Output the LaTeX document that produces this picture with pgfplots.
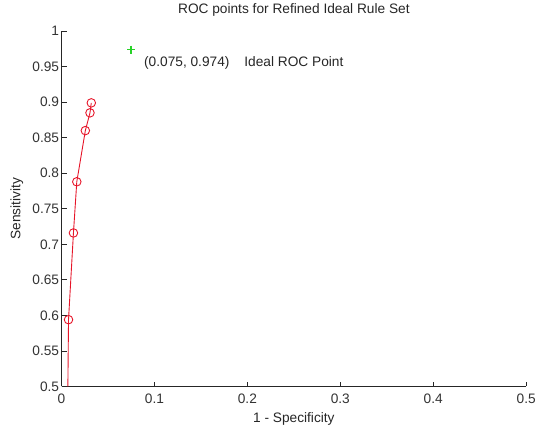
\documentclass[border=0pt]{standalone}
\usepackage{fontspec}
\setmainfont{Liberation Sans}
\usepackage{pgfplots}
\pgfplotsset{compat=1.18}
\definecolor{rocred}{RGB}{230,20,40}
\definecolor{idealgreen}{RGB}{40,210,40}
\newcommand{\chartfont}{\fontsize{13.8bp}{16bp}\selectfont}
\begin{document}
\begin{tikzpicture}
\begin{axis}[
  at={(0,0)}, anchor=south west,
  scale only axis, width=468bp, height=358bp,
  xmin=0, xmax=0.5, ymin=0.5, ymax=1,
  axis x line=bottom, axis y line=left,
  axis line style={-, black!85, line width=0.8pt},
  tick align=inside, major tick length=5bp,
  tick style={black!85, line width=0.8pt},
  xtick={0,0.1,0.2,0.3,0.4,0.5},
  xticklabels={0,0.1,0.2,0.3,0.4,0.5},
  ytick={0.5,0.55,0.6,0.65,0.7,0.75,0.8,0.85,0.9,0.95,1},
  yticklabels={0.5,0.55,0.6,0.65,0.7,0.75,0.8,0.85,0.9,0.95,1},
  ticklabel style={font=\chartfont, text=black!80},
  xticklabel style={anchor=base, yshift=-17bp},
  yticklabel style={anchor=east, xshift=1bp},
  title={ROC points for Refined Ideal Rule Set},
  title style={font=\chartfont, text=black!85, at={(axis description cs:0.5,1)}, anchor=base, yshift=12bp},
  xlabel={1 - Specificity},
  xlabel style={font=\chartfont, text=black!85, at={(axis description cs:0.5,0)}, anchor=base, yshift=-36bp},
  ylabel={Sensitivity},
  ylabel style={font=\chartfont, text=black!85, at={(axis description cs:-0.0962,0.5)}, anchor=center},
  clip=true,
]
\addplot[color=rocred, line width=0.9pt, mark=none] coordinates {
  (0.0068,0.5) (0.0075,0.594) (0.0128,0.716) (0.0164,0.788)
  (0.0256,0.860) (0.0306,0.885) (0.032,0.899)
};
\addplot[color=rocred, line width=0.9pt, only marks, mark=o, mark size=4.3bp] coordinates {
  (0.0075,0.594) (0.0128,0.716) (0.0164,0.788)
  (0.0256,0.860) (0.0306,0.885) (0.032,0.899)
};
\addplot[only marks, mark=+, mark size=4bp, mark options={solid, draw=idealgreen, line width=1.6pt}, idealgreen] coordinates {
  (0.075,0.974)
};
\node[anchor=west, font=\chartfont, inner sep=0pt, text=black!85] at (axis cs:0.0887,0.955) {(0.075, 0.974)\hspace{15bp}Ideal ROC Point};
\end{axis}
\path[use as bounding box] (-62bp,-42bp) rectangle (477bp,387bp);
\end{tikzpicture}
\end{document}
